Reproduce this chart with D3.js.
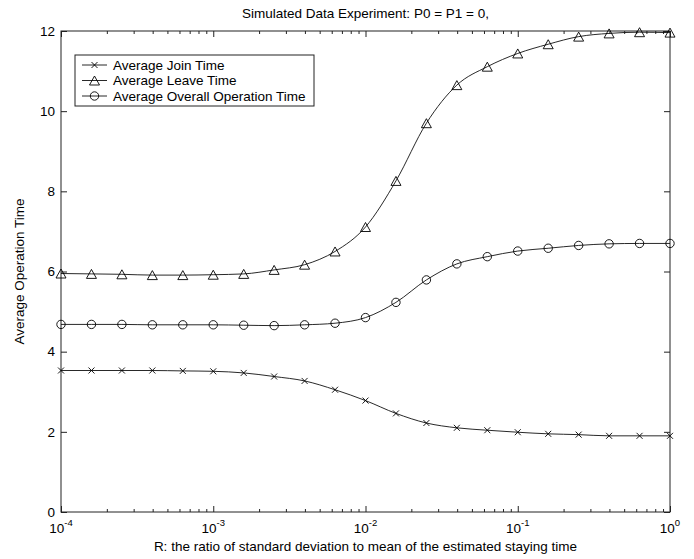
<!DOCTYPE html>
<html>
<head>
<meta charset="utf-8">
<script src="https://cdn.jsdelivr.net/npm/d3@7"></script>
<style>
  html, body { margin: 0; padding: 0; background: #fff; }
  svg { display: block; font-family: "Liberation Sans", Arial, Helvetica, sans-serif; }
</style>
</head>
<body>
<svg id="chart" width="694" height="559"></svg>
<script>
// ---- data ----
const ratioValues = [
  0.0001, 0.0001585, 0.0002512, 0.0003981, 0.000631,
  0.001, 0.001585, 0.002512, 0.003981, 0.00631,
  0.01, 0.01585, 0.02512, 0.03981, 0.0631,
  0.1, 0.1585, 0.2512, 0.3981, 0.631, 1
];
const joinTime = [
  3.53, 3.53, 3.53, 3.53, 3.52, 3.51, 3.47, 3.38, 3.27, 3.05,
  2.78, 2.46, 2.22, 2.10, 2.04, 1.99, 1.95, 1.93, 1.90, 1.90, 1.90
];
const leaveTime = [
  5.95, 5.94, 5.93, 5.91, 5.91, 5.92, 5.94, 6.04, 6.17, 6.50,
  7.11, 8.26, 9.70, 10.65, 11.11, 11.44, 11.67, 11.86, 11.94, 11.97, 11.96
];
const overallTime = [
  4.68, 4.68, 4.68, 4.67, 4.67, 4.67, 4.66, 4.65, 4.67, 4.71,
  4.85, 5.23, 5.79, 6.19, 6.37, 6.51, 6.58, 6.65, 6.69, 6.70, 6.70
];
const seriesNames = ["Average Join Time", "Average Leave Time", "Average Overall Operation Time"];
const seriesMarkers = ["x", "triangle", "circle"];
const yTicks = [0, 2, 4, 6, 8, 10, 12];
const xMajorTicks = [1e-4, 1e-3, 1e-2, 1e-1, 1];
const xTickExponents = ["-4", "-3", "-2", "-1", "0"];
const titleText = "Simulated Data Experiment: P0 = P1 = 0,";
const xLabel = "R: the ratio of standard deviation to mean of the estimated staying time";
const yLabel = "Average Operation Time";

// ---- layout ----
const pLeft = 61, pRight = 670, pTop = 31, pBottom = 512;
const svg = d3.select("#chart");
const x = d3.scaleLog().domain([1e-4, 1]).range([pLeft, pRight]);
const y = d3.scaleLinear().domain([0, 12]).range([pBottom, pTop]);
const axisColor = "#222";
const fontSize = 13.5;

// frame
svg.append("rect")
  .attr("x", pLeft).attr("y", pTop)
  .attr("width", pRight - pLeft).attr("height", pBottom - pTop)
  .attr("fill", "none").attr("stroke", axisColor).attr("stroke-width", 1);

// minor x ticks (log)
const minorTicks = [];
xMajorTicks.slice(0, -1).forEach(d => { for (let m = 2; m <= 9; m++) minorTicks.push(d * m); });

const bottomAxis = d3.axisBottom(x).tickValues(minorTicks).tickSize(-3).tickFormat("");
const bottomAxisMajor = d3.axisBottom(x).tickValues(xMajorTicks).tickSize(-6).tickFormat("");
const topAxis = d3.axisTop(x).tickValues(minorTicks).tickSize(-3).tickFormat("");
const topAxisMajor = d3.axisTop(x).tickValues(xMajorTicks).tickSize(-6).tickFormat("");
const leftAxis = d3.axisLeft(y).tickValues(yTicks).tickSize(-6).tickFormat("");
const rightAxis = d3.axisRight(y).tickValues(yTicks).tickSize(-6).tickFormat("");

function styleAxis(g) {
  g.select(".domain").remove();
  g.selectAll(".tick line").attr("stroke", axisColor).attr("stroke-width", 1);
}
svg.append("g").attr("transform", `translate(0,${pBottom})`).call(bottomAxis).call(styleAxis);
svg.append("g").attr("transform", `translate(0,${pBottom})`).call(bottomAxisMajor).call(styleAxis);
svg.append("g").attr("transform", `translate(0,${pTop})`).call(topAxis).call(styleAxis);
svg.append("g").attr("transform", `translate(0,${pTop})`).call(topAxisMajor).call(styleAxis);
svg.append("g").attr("transform", `translate(${pLeft},0)`).call(leftAxis).call(styleAxis);
svg.append("g").attr("transform", `translate(${pRight},0)`).call(rightAxis).call(styleAxis);

// y tick labels
svg.append("g").selectAll("text").data(yTicks).join("text")
  .attr("x", pLeft - 6).attr("y", d => y(d))
  .attr("dy", "0.35em")
  .attr("text-anchor", "end")
  .attr("font-size", fontSize)
  .attr("fill", "#000")
  .text(d => d);

// x tick labels 10^n
const xl = svg.append("g").selectAll("text").data(xMajorTicks).join("text")
  .attr("x", d => x(d)).attr("y", 533)
  .attr("text-anchor", "middle")
  .attr("font-size", fontSize)
  .attr("fill", "#000");
xl.append("tspan").text("10");
xl.append("tspan").attr("dy", -7).attr("font-size", 9.5).text((d, i) => xTickExponents[i]);

// title and axis labels
svg.append("text").attr("x", (pLeft + pRight) / 2).attr("y", 18)
  .attr("text-anchor", "middle").attr("font-size", fontSize).text(titleText);
svg.append("text").attr("x", (pLeft + pRight) / 2).attr("y", 551)
  .attr("text-anchor", "middle").attr("font-size", fontSize).text(xLabel);
svg.append("text")
  .attr("transform", `translate(24,${(pTop + pBottom) / 2}) rotate(-90)`)
  .attr("text-anchor", "middle").attr("font-size", fontSize).text(yLabel);

// markers
function drawMarker(g, type, cx, cy) {
  if (type === "x") {
    const s = 3;
    g.append("path")
      .attr("d", `M${cx - s},${cy - s}L${cx + s},${cy + s}M${cx - s},${cy + s}L${cx + s},${cy - s}`)
      .attr("stroke", "#000").attr("stroke-width", 0.9).attr("fill", "none");
  } else if (type === "triangle") {
    const w = 5, h = 4.5;
    g.append("path")
      .attr("d", `M${cx},${cy - h}L${cx + w},${cy + h}L${cx - w},${cy + h}Z`)
      .attr("stroke", "#000").attr("stroke-width", 0.9).attr("fill", "none");
  } else {
    g.append("circle").attr("cx", cx).attr("cy", cy).attr("r", 4.2)
      .attr("stroke", "#000").attr("stroke-width", 0.9).attr("fill", "none");
  }
}

const allSeries = [joinTime, leaveTime, overallTime];
const line = d3.line()
  .x((d, i) => x(ratioValues[i]))
  .y(d => y(d))
  .curve(d3.curveMonotoneX);

allSeries.forEach((vals, si) => {
  const g = svg.append("g");
  g.append("path").datum(vals)
    .attr("d", line)
    .attr("fill", "none").attr("stroke", "#111").attr("stroke-width", 0.9);
  vals.forEach((v, i) => drawMarker(g, seriesMarkers[si], x(ratioValues[i]), y(v)));
});

// legend
const lg = svg.append("g");
lg.append("rect").attr("x", 75).attr("y", 55).attr("width", 239).attr("height", 51)
  .attr("fill", "#fff").attr("stroke", axisColor).attr("stroke-width", 1);
seriesNames.forEach((name, i) => {
  const cy = 65 + i * 15.5;
  lg.append("line").attr("x1", 82).attr("x2", 107).attr("y1", cy).attr("y2", cy)
    .attr("stroke", "#111").attr("stroke-width", 0.9);
  drawMarker(lg, seriesMarkers[i], 94.5, cy);
  lg.append("text").attr("x", 113).attr("y", cy).attr("dy", "0.35em")
    .attr("font-size", fontSize).text(name);
});
</script>
</body>
</html>
